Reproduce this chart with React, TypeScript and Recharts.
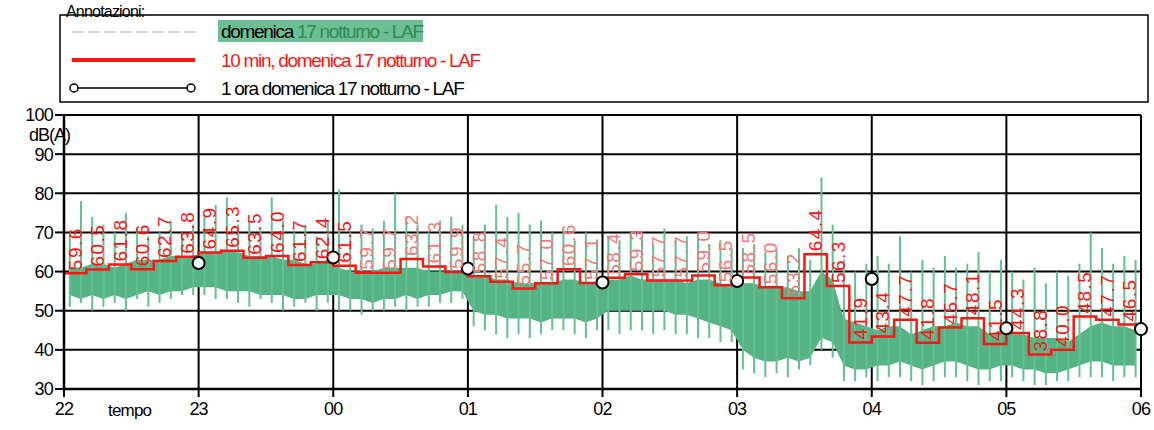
import { Area, Bar, CartesianGrid, ComposedChart, LabelList, Line, XAxis, YAxis } from "recharts";

const HOUR_TICKS = ["22", "23", "00", "01", "02", "03", "04", "05", "06"];
const DB_TICKS = [30, 40, 50, 60, 70, 80, 90, 100];

// LAF trace read per 5 minutes (22:00 -> 06:00): dense band and spike extremes
const LAF_BAND_LOW = [
  54, 53, 54, 53, 54, 53, 54, 55, 54, 55, 55, 56,
  56, 56, 55, 55, 55, 54, 54, 54, 53, 53, 54, 54,
  54, 53, 53, 52, 53, 53, 54, 53, 54, 54, 55, 55,
  50, 49, 49, 48, 48, 48, 47, 48, 48, 48, 47, 48,
  50, 50, 50, 50, 50, 50, 49, 49, 48, 47, 46, 45,
  40, 38, 37, 37, 38, 37, 38, 43, 42, 36, 35, 35,
  36, 36, 37, 36, 35, 36, 37, 37, 36, 35, 35, 36,
  36, 35, 35, 34, 34, 35, 36, 37, 37, 36, 36, 36,
];
const LAF_BAND_HIGH = [
  61, 61, 62, 62, 61, 62, 63, 63, 63, 64, 64, 64,
  65, 65, 65, 65, 64, 64, 64, 63, 63, 62, 62, 63,
  61, 60, 60, 60, 61, 61, 61, 61, 60, 60, 60, 60,
  59, 59, 58, 58, 57, 57, 57, 57, 58, 58, 57, 57,
  58, 58, 59, 58, 58, 58, 58, 57, 58, 58, 57, 56,
  57, 57, 56, 56, 56, 55, 55, 60, 58, 48, 47, 46,
  45, 46, 46, 44, 45, 46, 46, 47, 46, 46, 44, 45,
  44, 44, 43, 43, 43, 42, 44, 46, 47, 46, 46, 45,
];
const LAF_SPIKE_LOW = [
  51, 52, 50, 51, 52, 50, 53, 51, 52, 53, 54, 54,
  54, 53, 53, 52, 51, 53, 52, 50, 51, 52, 50, 52,
  50, 50, 49, 50, 50, 51, 50, 51, 51, 52, 52, 53,
  46, 45, 44, 43, 44, 43, 44, 45, 45, 44, 43, 45,
  45, 44, 45, 45, 44, 45, 44, 44, 43, 43, 42, 42,
  35, 34, 33, 34, 33, 35, 36, 40, 38, 32, 32, 33,
  32, 33, 33, 32, 31, 32, 33, 33, 32, 31, 32, 32,
  33, 32, 31, 31, 32, 32, 33, 33, 33, 32, 33, 33,
];
const LAF_SPIKE_HIGH = [
  70, 78, 74, 72, 70, 75, 71, 69, 70, 73, 70, 72,
  74, 77, 79, 72, 73, 71, 79, 73, 70, 72, 69, 73,
  81, 70, 72, 71, 73, 80, 74, 72, 70, 73, 74, 72,
  69, 72, 77, 74, 75, 72, 73, 70, 71, 68, 70, 68,
  69, 68, 70, 69, 67, 71, 68, 69, 70, 67, 68, 66,
  66, 67, 65, 66, 64, 66, 63, 84, 72, 63, 60, 62,
  64, 62, 69, 60, 63, 61, 64, 61, 62, 65, 60, 63,
  60, 58, 61, 57, 60, 59, 62, 70, 66, 62, 64, 63,
];

// 10 min LAF, 22:00 -> 06:00
const LAF_10MIN = [
  59.6, 60.5, 61.8, 60.6, 62.7, 63.8,
  64.9, 65.3, 63.5, 64.0, 61.7, 62.4,
  61.5, 59.7, 59.7, 63.2, 61.3, 59.9,
  58.8, 57.4, 55.7, 57.0, 60.6, 57.1,
  58.4, 59.3, 57.7, 57.7, 59.0, 56.5,
  58.5, 56.0, 53.2, 64.4, 56.3, 41.9,
  43.4, 47.7, 41.8, 45.7, 48.1, 41.5,
  44.3, 38.8, 40.0, 48.5, 47.7, 46.5,
];

// 1 hour LAF, marked at the end of each hour (23 -> 06)
const LAF_1H = [62.2, 63.6, 60.8, 57.2, 57.6, 58.1, 45.5, 45.3];

const PLOT_W = 1077;
const SLOT_W = PLOT_W / LAF_10MIN.length;
const FONT = "'Liberation Sans', Arial, sans-serif";
const GREEN = "#55b385";
const RED = "#ff1414";

const lafRows = LAF_BAND_LOW.map((lo, i) => ({
  min: i * 5 + 2.5,
  band: [lo, LAF_BAND_HIGH[i]],
  spike: [LAF_SPIKE_LOW[i], LAF_SPIKE_HIGH[i]],
}));
const tenMinRows = [
  ...LAF_10MIN.map((v, i) => ({ min: i * 10, laf: v })),
  { min: 480, laf: LAF_10MIN[LAF_10MIN.length - 1] },
];
const hourRows = LAF_1H.map((v, i) => ({ min: (i + 1) * 60, laf: v }));

function TenMinLabel(props: any) {
  const { x, y, value, index } = props;
  if (index >= LAF_10MIN.length) return null;
  // the scan washed out the labels between 00:10 and 03:30
  const faded = index >= 13 && index <= 32;
  return (
    <text
      transform={`translate(${x + SLOT_W / 2},${y - 3}) rotate(-90)`}
      textAnchor="start"
      dominantBaseline="central"
      fill={faded ? "#f07a7a" : RED}
      fontSize={19}
      fontFamily={FONT}
      letterSpacing={1.5}
    >
      {Number(value).toFixed(1)}
    </text>
  );
}

function LegendBox() {
  const text = { fontFamily: FONT, fontSize: 19, letterSpacing: -1.3, dominantBaseline: "central" as const };
  return (
    <svg width={1154} height={110} style={{ position: "absolute", left: 0, top: 0 }}>
      <rect x={60} y={15} width={1088} height={87} fill="none" stroke="#000" strokeWidth={1.5} />
      <text x={66} y={11} fontFamily={FONT} fontSize={16} letterSpacing={-0.8} dominantBaseline="central">
        Annotazioni:
      </text>
      <line x1={72} x2={197} y1={32} y2={32} stroke="#c8c8c8" strokeWidth={1.5} strokeDasharray="12 4" />
      <rect x={218} y={20} width={205} height={22} fill="#6cbf93" />
      <text x={221} y={31} {...text}>
        <tspan fill="#000">domenica </tspan>
        <tspan fill="#2f8a5a">17 notturno - LAF</tspan>
      </text>
      <line x1={72} x2={195} y1={60} y2={60} stroke={RED} strokeWidth={4} />
      <text x={221} y={60} fill={RED} {...text}>
        10 min, domenica 17 notturno - LAF
      </text>
      <line x1={74} x2={191} y1={88} y2={88} stroke="#000" strokeWidth={1.5} />
      <circle cx={74} cy={88} r={4} fill="#fff" stroke="#000" strokeWidth={1.5} />
      <circle cx={191} cy={88} r={4} fill="#fff" stroke="#000" strokeWidth={1.5} />
      <text x={221} y={88} fill="#000" {...text}>
        1 ora domenica 17 notturno - LAF
      </text>
    </svg>
  );
}

export default function App() {
  return (
    <div style={{ position: "absolute", left: 0, top: 0, width: 1154, height: 430, background: "#fff" }}>
      <ComposedChart width={1154} height={430} data={lafRows} margin={{ top: 115, right: 13, bottom: 11, left: 20 }}>
        <CartesianGrid stroke="#000" strokeWidth={2} />
        <XAxis
          dataKey="min"
          type="number"
          domain={[0, 480]}
          ticks={HOUR_TICKS.map((_, i) => i * 60)}
          tickFormatter={(m: number) => HOUR_TICKS[m / 60]}
          height={30}
          axisLine={{ stroke: "#000", strokeWidth: 2.5 }}
          tickLine={{ stroke: "#000", strokeWidth: 2 }}
          tickSize={8}
          tickMargin={5}
          tick={{ fill: "#000", fontSize: 18, fontFamily: FONT, letterSpacing: -0.8 }}
        />
        <YAxis
          type="number"
          domain={[30, 100]}
          ticks={DB_TICKS}
          width={44}
          axisLine={{ stroke: "#000", strokeWidth: 2.5 }}
          tickLine={{ stroke: "#000", strokeWidth: 2 }}
          tickSize={9}
          tickMargin={2}
          tick={{ fill: "#000", fontSize: 18, fontFamily: FONT, letterSpacing: -0.8 }}
        />
        <Area dataKey="band" type="linear" stroke="none" fill={GREEN} fillOpacity={1} isAnimationActive={false} />
        <Bar dataKey="spike" barSize={2} fill="#62c093" isAnimationActive={false} />
        <Line
          data={tenMinRows}
          dataKey="laf"
          type="stepAfter"
          stroke={RED}
          strokeWidth={2.5}
          dot={false}
          isAnimationActive={false}
        >
          <LabelList dataKey="laf" content={TenMinLabel} />
        </Line>
        <Line
          data={hourRows}
          dataKey="laf"
          stroke="none"
          dot={{ r: 6, fill: "#fff", stroke: "#000", strokeWidth: 2 }}
          isAnimationActive={false}
        />
      </ComposedChart>
      <LegendBox />
      <div
        style={{
          position: "absolute",
          left: 29,
          top: 127,
          fontFamily: FONT,
          fontSize: 18,
          lineHeight: "16px",
          letterSpacing: -1,
        }}
      >
        dB(A)
      </div>
      <div style={{ position: "absolute", left: 108, top: 401, fontFamily: FONT, fontSize: 17, letterSpacing: -0.8 }}>
        tempo
      </div>
    </div>
  );
}
